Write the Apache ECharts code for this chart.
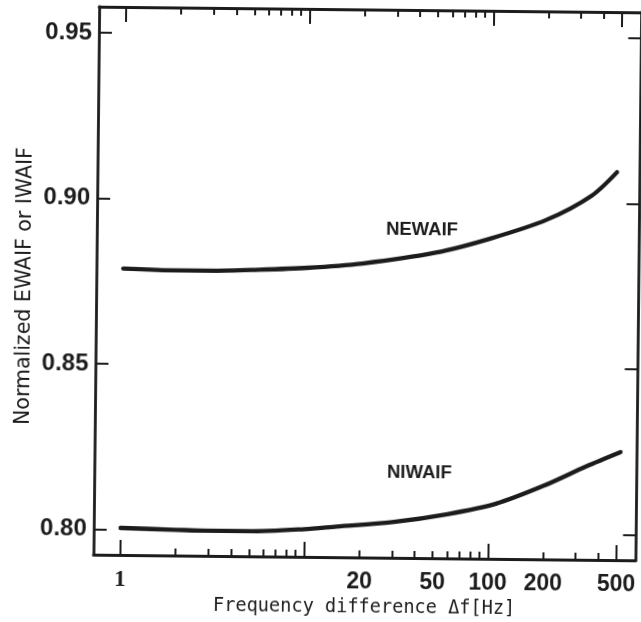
<!DOCTYPE html>
<html>
<head>
<meta charset="utf-8">
<script src="https://cdn.jsdelivr.net/npm/echarts@6/dist/echarts.min.js"></script>
<style>
  html, body { margin: 0; padding: 0; background: #fff; }
  /* the scanned figure is tilted a little clockwise */
  #main { width: 641px; height: 622px; transform: rotate(0.6deg); transform-origin: 320px 311px; }
</style>
</head>
<body>
<div id="main"></div>
<script>
// NEWAIF curve
const freqNew = [1, 2, 3, 5, 10, 20, 50, 100, 200, 350, 480];
const newaif = [0.8788, 0.8784, 0.8784, 0.8788, 0.8796, 0.8811, 0.8846, 0.8891, 0.8949, 0.9023, 0.9095];
// NIWAIF curve
const freqNiw = [1, 2, 3, 5, 10, 15, 30, 60, 110, 200, 340, 520];
const niwaif = [0.8004, 0.8000, 0.7998, 0.7998, 0.8006, 0.8015, 0.8030, 0.8056, 0.8089, 0.8145, 0.8205, 0.8249];

// ticks and labels
const majorX = [1, 10, 100, 500];
const minorX = [2, 3, 4, 5, 6, 7, 8, 9, 20, 30, 40, 50, 60, 70, 80, 90, 200, 300, 400];
const labelX = [1, 20, 50, 100, 200, 500];
const ticksY = [0.80, 0.85, 0.90, 0.95];

// curve names, placed near the curves
const curveLabels = [
  [42, 0.8915, 'NEWAIF'],
  [42, 0.8181, 'NIWAIF']
];

const ink = '#1c1c1c';
const xMin = 0.7145, xMax = 639;
const yMin = 0.7922, yMax = 0.9579;

const chart = echarts.init(document.getElementById('main'));

function xAxisBase(position, ticks, len, withLine) {
  return {
    type: 'log',
    logBase: 10,
    min: xMin,
    max: xMax,
    position: position,
    axisLine: { show: withLine, lineStyle: { color: ink, width: 2.8 } },
    axisTick: { show: true, inside: true, length: len, customValues: ticks,
      lineStyle: { color: ink, width: 2 } },
    axisLabel: { show: false },
    splitLine: { show: false },
    minorTick: { show: false }
  };
}

const bottomMajor = xAxisBase('bottom', majorX, 15, true);
bottomMajor.axisLabel = {
  show: true,
  customValues: labelX,
  margin: 13,
  color: ink,
  fontFamily: 'Liberation Sans',
  fontWeight: 'bold',
  fontSize: 23,
  formatter: function(v) {
    return v === 1 ? '{serif|1}' : String(v);
  },
  rich: {
    serif: { fontFamily: 'Liberation Serif', fontWeight: 'bold', fontSize: 23, color: ink }
  }
};
bottomMajor.name = 'Frequency difference \u0394f[Hz]';
bottomMajor.nameLocation = 'middle';
bottomMajor.nameGap = 40;
bottomMajor.nameTextStyle = { fontFamily: 'DejaVu Sans Mono', fontSize: 18.6, color: ink };

function yAxisBase(position, withLabels) {
  return {
    type: 'value',
    min: yMin,
    max: yMax,
    position: position,
    axisLine: { show: true, lineStyle: { color: ink, width: 2.8 } },
    axisTick: { show: true, inside: true, length: 13, customValues: ticksY,
      lineStyle: { color: ink, width: 2 } },
    axisLabel: {
      show: withLabels,
      customValues: ticksY,
      margin: 7,
      color: ink,
      fontFamily: 'Liberation Sans',
      fontWeight: 'bold',
      fontSize: 24,
      formatter: function(v) { return v.toFixed(2); }
    },
    splitLine: { show: false }
  };
}

const lineStyle = { color: ink, width: 4.3, cap: 'round' };

const option = {
  backgroundColor: '#fff',
  animation: false,
  grid: { left: 96, right: -1, top: 9, bottom: 61.5, containLabel: false },
  xAxis: [
    bottomMajor,
    xAxisBase('bottom', minorX, 7, false),
    xAxisBase('top', majorX, 15, true),
    xAxisBase('top', minorX, 7, false)
  ],
  yAxis: [
    yAxisBase('left', true),
    yAxisBase('right', false)
  ],
  graphic: [
    {
      type: 'text',
      x: 14,
      y: 428,
      rotation: Math.PI / 2,
      style: {
        text: 'Normalized EWAIF or IWAIF',
        fontFamily: 'DejaVu Sans',
        fontSize: 20.5,
        fill: ink
      }
    }
  ],
  series: [
    {
      type: 'line',
      xAxisIndex: 0,
      yAxisIndex: 0,
      smooth: 0.3,
      showSymbol: false,
      lineStyle: lineStyle,
      data: freqNew.map((f, i) => [f, newaif[i]])
    },
    {
      type: 'line',
      xAxisIndex: 0,
      yAxisIndex: 0,
      smooth: 0.3,
      showSymbol: false,
      lineStyle: lineStyle,
      data: freqNiw.map((f, i) => [f, niwaif[i]])
    },
    {
      type: 'scatter',
      xAxisIndex: 0,
      yAxisIndex: 0,
      symbolSize: 0,
      silent: true,
      itemStyle: { opacity: 1, color: 'transparent' },
      label: {
        show: true,
        position: 'inside',
        color: ink,
        opacity: 1,
        fontFamily: 'Liberation Sans',
        fontWeight: 'bold',
        fontSize: 18.5,
        formatter: function(p) { return p.value[2]; }
      },
      data: curveLabels
    }
  ]
};
chart.setOption(option);
</script>
</body>
</html>
